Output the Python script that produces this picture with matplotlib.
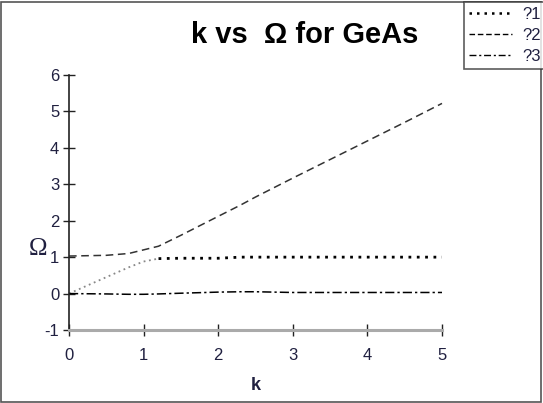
import matplotlib
matplotlib.use("Agg")
import matplotlib.pyplot as plt
from matplotlib.lines import Line2D
from matplotlib.patches import Rectangle

plt.rcParams["font.family"] = ["Liberation Sans", "DejaVu Sans"]
plt.rcParams["axes.unicode_minus"] = False

# Data
k_vals = [0.0, 0.5, 0.8, 1.0, 1.2, 1.5, 2.0, 2.3, 2.5, 3.0, 3.5, 4.0, 4.5, 5.0]
omega1 = [0.0, 0.45, 0.72, 0.88, 0.96, 0.97, 0.97, 1.0, 1.0, 1.0, 1.0, 1.0, 1.0, 1.0]
omega2 = [1.03, 1.05, 1.1, 1.2, 1.3, 1.6, 2.12, 2.43, 2.65, 3.17, 3.68, 4.19, 4.7, 5.22]
omega3 = [0.0, -0.01, -0.02, -0.02, -0.01, 0.01, 0.04, 0.05, 0.05, 0.03, 0.03, 0.03, 0.03, 0.03]
labels = ["?1", "?2", "?3"]
x_ticks = [0, 1, 2, 3, 4, 5]
y_ticks = [-1, 0, 1, 2, 3, 4, 5, 6]

W, H = 543, 403
TXT = "#202040"
fig = plt.figure(figsize=(W / 100, H / 100), dpi=100)
ax = fig.add_axes([69 / W, 1 - 330 / H, (442 - 69) / W, (330 - 75) / H])

# dotted series: light grey rising part, then black plateau
split = 4
ax.plot(k_vals[:split + 1], omega1[:split + 1], linestyle=(0, (1, 2)),
        color="#888888", lw=1.3, clip_on=False)
ax.plot(k_vals[split:], omega1[split:], linestyle=(0, (1, 2)),
        color="black", lw=2.0, clip_on=False)
ax.plot(k_vals, omega2, linestyle=(0, (5, 3)), color="#333333", lw=1.1, clip_on=False)
ax.plot(k_vals, omega3, linestyle=(0, (6, 2, 1.5, 2)), color="black", lw=1.1, clip_on=False)

ax.set_xlim(0, 5)
ax.set_ylim(-1, 6)
ax.set_xticks(x_ticks)
ax.set_yticks(y_ticks)
ax.spines["top"].set_visible(False)
ax.spines["right"].set_visible(False)
ax.spines["left"].set_color("#222222")
ax.spines["left"].set_linewidth(1.2)
ax.spines["bottom"].set_color("#aaaaaa")
ax.spines["bottom"].set_linewidth(2.2)
ax.tick_params(direction="inout", length=8, width=1, color="#222222",
               labelsize=12, labelcolor=TXT, pad=9)
ax.tick_params(axis="y", pad=3)
ax.patch.set_alpha(0)

ax.set_xlabel("k", fontsize=13, fontweight="bold", color=TXT, labelpad=10)
fig.text(38 / W, 1 - 249 / H, "Ω", fontsize=18, family="Liberation Serif",
         color=TXT, ha="center", va="center")

fig.text(305 / W, 1 - 43 / H, "k vs  Ω for GeAs", fontsize=21,
         fontweight="bold", ha="center", va="baseline")

# outer frame
fig.patches.append(Rectangle((1 / W, 1 / H), (W - 3) / W, (H - 3) / H,
                             transform=fig.transFigure, fill=False,
                             edgecolor="#555555", lw=1.2))

handles = [
    Line2D([], [], linestyle=(0, (1, 2)), color="black", lw=1.8),
    Line2D([], [], linestyle=(0, (4, 2)), color="black", lw=1.0),
    Line2D([], [], linestyle=(0, (5, 2, 1.5, 2)), color="black", lw=1.0),
]
leg = fig.legend(handles, labels, loc="upper left",
                 bbox_to_anchor=(464 / W, 1 - 2 / H), fontsize=12,
                 frameon=True, fancybox=False, edgecolor="#333333",
                 handlelength=2.6, handletextpad=0.6, borderpad=0.3,
                 labelspacing=0.35, borderaxespad=0)
leg.get_frame().set_linewidth(1.2)
for t in leg.get_texts():
    t.set_color(TXT)

fig.savefig("out.png", dpi=100)
